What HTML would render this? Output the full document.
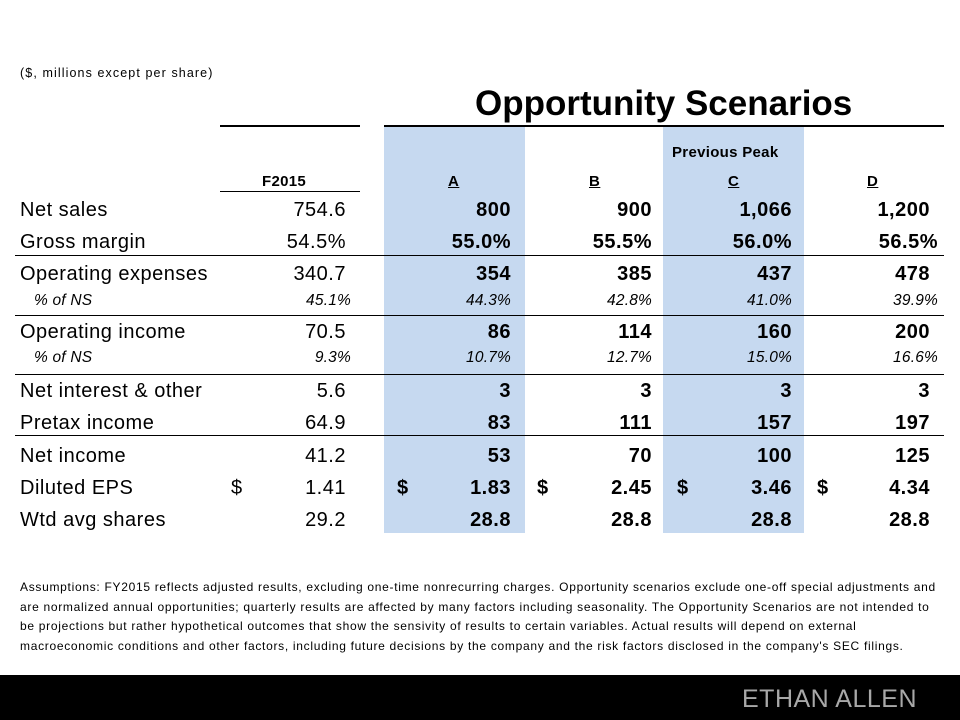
<!DOCTYPE html>
<html><head><meta charset="utf-8"><style>
body{margin:0;width:960px;height:720px;position:relative;background:#fff;font-family:"Liberation Sans",sans-serif;color:#000;overflow:hidden}
.t{position:absolute;height:24px;line-height:24px;white-space:nowrap;font-size:20px;letter-spacing:0.5px}
.r{text-align:right;width:140px}
.b{font-weight:bold}
.i{font-style:italic;font-size:15.5px;letter-spacing:0.2px}
.h{position:absolute;background:#000;height:1px}
.blue{position:absolute;background:#c6d9f0;top:127px;height:406px;width:141px}
</style></head><body>
<div class="blue" style="left:384px"></div>
<div class="blue" style="left:663px"></div>
<div class="t" style="left:20px;top:61px;font-size:12.5px;letter-spacing:1.1px">($, millions except per share)</div>
<div class="t b" style="left:475px;top:84px;font-size:35px;height:40px;line-height:40px;letter-spacing:0px">Opportunity Scenarios</div>
<div class="h" style="left:220px;top:125px;width:140px;height:2px"></div>
<div class="h" style="left:384px;top:125px;width:560px;height:2px"></div>
<div class="t b" style="left:672px;top:141px;font-size:15px;letter-spacing:0.3px">Previous Peak</div>
<div class="t b" style="left:262px;top:170px;font-size:15px;letter-spacing:0.3px">F2015</div>
<div class="t b" style="left:448px;top:170px;font-size:15px;text-decoration:underline">A</div>
<div class="t b" style="left:589px;top:170px;font-size:15px;text-decoration:underline">B</div>
<div class="t b" style="left:728px;top:170px;font-size:15px;text-decoration:underline">C</div>
<div class="t b" style="left:867px;top:170px;font-size:15px;text-decoration:underline">D</div>
<div class="h" style="left:220px;top:191px;width:140px"></div>
<div class="h" style="left:15px;top:255px;width:929px"></div>
<div class="h" style="left:15px;top:315px;width:929px"></div>
<div class="h" style="left:15px;top:374px;width:929px"></div>
<div class="h" style="left:15px;top:435px;width:929px"></div>

<div class="t" style="left:20px;top:198px">Net sales</div>
<div class="t" style="left:20px;top:230px">Gross margin</div>
<div class="t" style="left:20px;top:262px">Operating expenses</div>
<div class="t i" style="left:34px;top:289px">% of NS</div>
<div class="t" style="left:20px;top:320px">Operating income</div>
<div class="t i" style="left:34px;top:346px">% of NS</div>
<div class="t" style="left:20px;top:379px">Net interest &amp; other</div>
<div class="t" style="left:20px;top:411px">Pretax income</div>
<div class="t" style="left:20px;top:444px">Net income</div>
<div class="t" style="left:20px;top:476px">Diluted EPS</div>
<div class="t" style="left:20px;top:508px">Wtd avg shares</div>

<div class="t r" style="left:206px;top:198px">754.6</div>
<div class="t r" style="left:206px;top:230px">54.5%</div>
<div class="t r" style="left:206px;top:262px">340.7</div>
<div class="t r i" style="left:211px;top:289px">45.1%</div>
<div class="t r" style="left:206px;top:320px">70.5</div>
<div class="t r i" style="left:211px;top:346px">9.3%</div>
<div class="t r" style="left:206px;top:379px">5.6</div>
<div class="t r" style="left:206px;top:411px">64.9</div>
<div class="t r" style="left:206px;top:444px">41.2</div>
<div class="t" style="left:231px;top:476px">$</div>
<div class="t r" style="left:206px;top:476px">1.41</div>
<div class="t r" style="left:206px;top:508px">29.2</div>

<div class="t r b" style="left:371px;top:198px">800</div>
<div class="t r b" style="left:371px;top:230px">55.0%</div>
<div class="t r b" style="left:371px;top:262px">354</div>
<div class="t r i" style="left:371px;top:289px">44.3%</div>
<div class="t r b" style="left:371px;top:320px">86</div>
<div class="t r i" style="left:371px;top:346px">10.7%</div>
<div class="t r b" style="left:371px;top:379px">3</div>
<div class="t r b" style="left:371px;top:411px">83</div>
<div class="t r b" style="left:371px;top:444px">53</div>
<div class="t b" style="left:397px;top:476px">$</div>
<div class="t r b" style="left:371px;top:476px">1.83</div>
<div class="t r b" style="left:371px;top:508px">28.8</div>

<div class="t r b" style="left:512px;top:198px">900</div>
<div class="t r b" style="left:512px;top:230px">55.5%</div>
<div class="t r b" style="left:512px;top:262px">385</div>
<div class="t r i" style="left:512px;top:289px">42.8%</div>
<div class="t r b" style="left:512px;top:320px">114</div>
<div class="t r i" style="left:512px;top:346px">12.7%</div>
<div class="t r b" style="left:512px;top:379px">3</div>
<div class="t r b" style="left:512px;top:411px">111</div>
<div class="t r b" style="left:512px;top:444px">70</div>
<div class="t b" style="left:537px;top:476px">$</div>
<div class="t r b" style="left:512px;top:476px">2.45</div>
<div class="t r b" style="left:512px;top:508px">28.8</div>

<div class="t r b" style="left:652px;top:198px">1,066</div>
<div class="t r b" style="left:652px;top:230px">56.0%</div>
<div class="t r b" style="left:652px;top:262px">437</div>
<div class="t r i" style="left:652px;top:289px">41.0%</div>
<div class="t r b" style="left:652px;top:320px">160</div>
<div class="t r i" style="left:652px;top:346px">15.0%</div>
<div class="t r b" style="left:652px;top:379px">3</div>
<div class="t r b" style="left:652px;top:411px">157</div>
<div class="t r b" style="left:652px;top:444px">100</div>
<div class="t b" style="left:677px;top:476px">$</div>
<div class="t r b" style="left:652px;top:476px">3.46</div>
<div class="t r b" style="left:652px;top:508px">28.8</div>

<div class="t r b" style="left:790px;top:198px">1,200</div>
<div class="t r b" style="left:798px;top:230px">56.5%</div>
<div class="t r b" style="left:790px;top:262px">478</div>
<div class="t r i" style="left:798px;top:289px">39.9%</div>
<div class="t r b" style="left:790px;top:320px">200</div>
<div class="t r i" style="left:798px;top:346px">16.6%</div>
<div class="t r b" style="left:790px;top:379px">3</div>
<div class="t r b" style="left:790px;top:411px">197</div>
<div class="t r b" style="left:790px;top:444px">125</div>
<div class="t b" style="left:817px;top:476px">$</div>
<div class="t r b" style="left:790px;top:476px">4.34</div>
<div class="t r b" style="left:790px;top:508px">28.8</div>

<div style="position:absolute;left:20px;top:578px;white-space:nowrap;font-size:12px;line-height:19.5px;letter-spacing:0.7px">Assumptions: FY2015 reflects adjusted results, excluding one-time nonrecurring charges. Opportunity scenarios exclude one-off special adjustments and<br>are normalized annual opportunities; quarterly results are affected by many factors including seasonality. The Opportunity Scenarios are not intended to<br>be projections but rather hypothetical outcomes that show the sensivity of results to certain variables. Actual results will depend on external<br>macroeconomic conditions and other factors, including future decisions by the company and the risk factors disclosed in the company's SEC filings.</div>

<div style="position:absolute;left:0;top:675px;width:960px;height:45px;background:#000"></div>
<div style="position:absolute;left:742px;top:684px;font-size:25px;line-height:30px;color:#a8a8a8;letter-spacing:0.5px">ETHAN ALLEN</div>
</body></html>
